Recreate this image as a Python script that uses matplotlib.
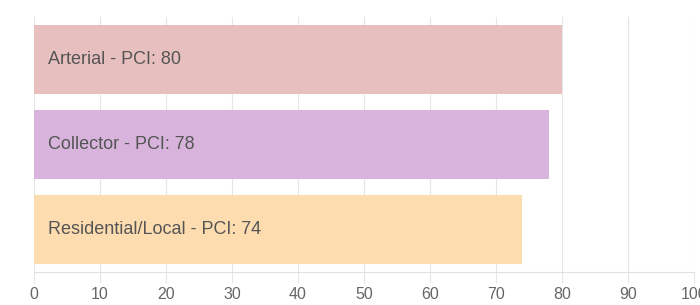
import matplotlib
matplotlib.use("Agg")
import matplotlib.pyplot as plt

categories = ["Arterial", "Collector", "Residential/Local"]
pci_values = [80, 78, 74]
bar_colors = ["#e8bfbf", "#d8b4dc", "#fddcb0"]
x_ticks = [0, 10, 20, 30, 40, 50, 60, 70, 80, 90, 100]

plt.rcParams['font.family'] = ['Liberation Sans', 'DejaVu Sans']

fig = plt.figure(figsize=(7.0, 3.05), dpi=100)
ax = fig.add_axes([34/700, (305-272)/305, 660/700, 255/305])

ypos = list(range(len(categories)))
ax.barh(ypos, pci_values, height=0.81, color=bar_colors, zorder=2)
for y, cat, v in zip(ypos, categories, pci_values):
    ax.text(2.1, y, f"{cat} - PCI: {v}", va="center", ha="left",
            fontsize=13, color="#555555", zorder=3)

ax.set_xlim(0, 100)
ax.set_ylim(len(categories) - 0.5, -0.5)
ax.set_yticks([])
ax.set_xticks(x_ticks)
ax.set_xticklabels([str(t) for t in x_ticks], fontsize=11.5, color="#666666")
ax.tick_params(axis="x", length=8, width=0.8, color="#e6e6e6", pad=3)
ax.grid(axis="x", color="#e6e6e6", linewidth=0.8, zorder=0)
for s in ["top", "right", "left"]:
    ax.spines[s].set_visible(False)
ax.spines["bottom"].set_color("#e0e0e0")
ax.spines["bottom"].set_linewidth(0.8)
for lbl in ax.get_xticklabels():
    lbl.set_clip_on(False)

fig.savefig("out.png", dpi=100)
